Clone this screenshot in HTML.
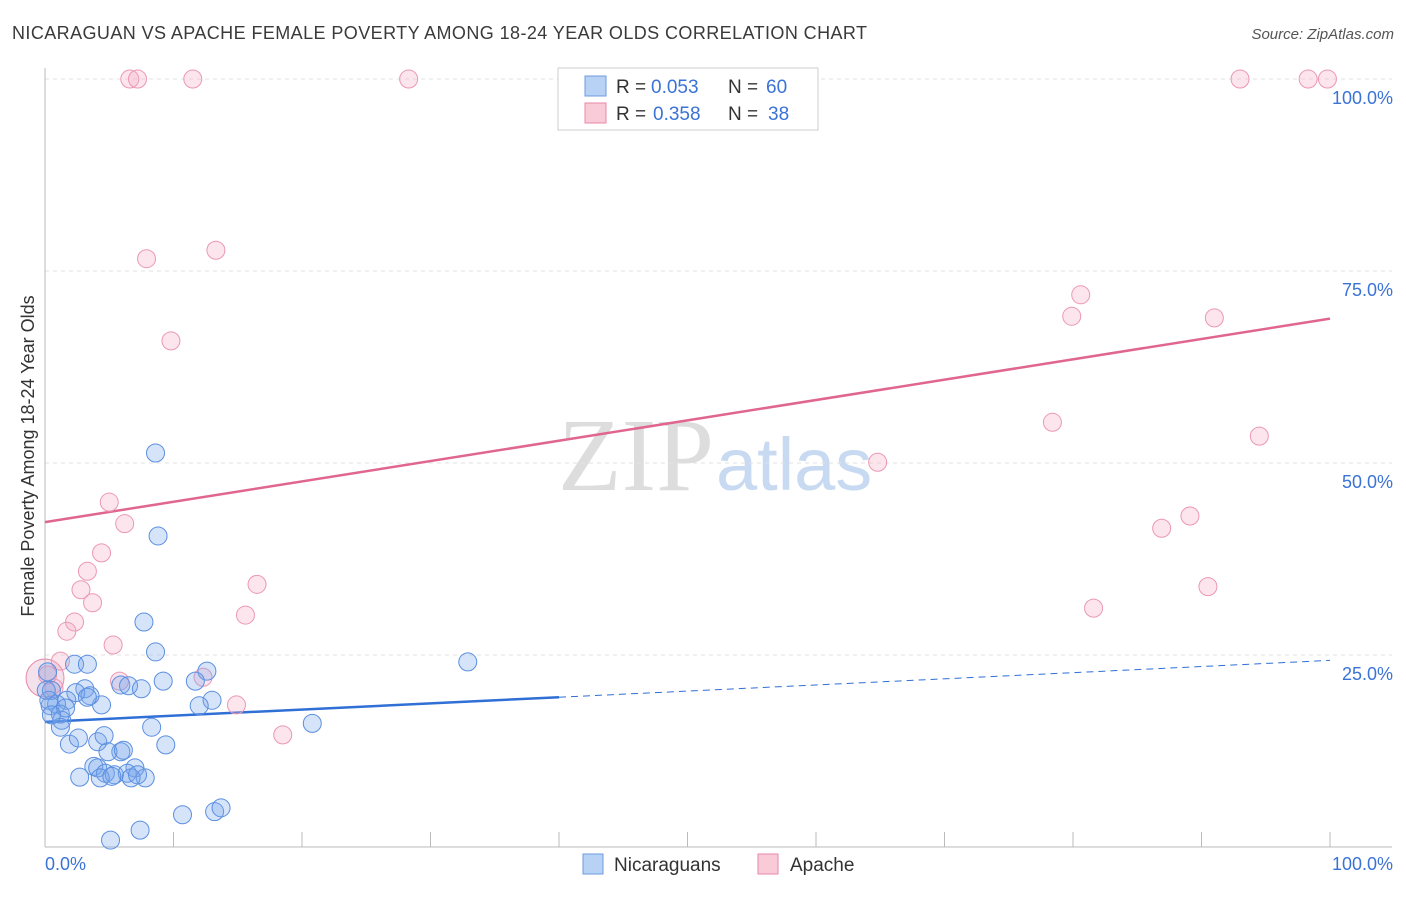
<!DOCTYPE html>
<html><head><meta charset="utf-8"><style>
body{margin:0;background:#fff;font-family:"Liberation Sans",sans-serif}
</style></head><body>
<svg width="1406" height="892" xmlns="http://www.w3.org/2000/svg">
<text x="12" y="39" font-size="18" fill="#3a3a3a" textLength="855" lengthAdjust="spacing">NICARAGUAN VS APACHE FEMALE POVERTY AMONG 18-24 YEAR OLDS CORRELATION CHART</text>
<text x="1394" y="39" font-size="15" fill="#555" text-anchor="end" font-style="italic">Source: ZipAtlas.com</text>
<text transform="translate(34,456) rotate(-90)" font-size="18" fill="#333" text-anchor="middle">Female Poverty Among 18-24 Year Olds</text>
<text x="714" y="490" font-size="104" fill="#ddd" text-anchor="end" font-family="Liberation Serif,serif">ZIP</text>
<text x="716" y="490" font-size="74" fill="#c8daf2">atlas</text>
<g id="grid"></g><g id="axes"></g><g id="lines"></g><g id="pts"></g>
<g>
<rect x="558" y="68" width="260" height="62" fill="#fff" stroke="#ccc"/>
<rect x="585" y="76" width="21" height="20" fill="#b8d2f5" stroke="#6d9be0"/>
<rect x="585" y="103" width="21" height="20" fill="#f9cad8" stroke="#e88aa8"/>
<text y="93" font-size="19" fill="#333"><tspan x="616">R =</tspan><tspan x="651" fill="#3a73d6">0.053</tspan><tspan x="728">N =</tspan><tspan x="766" fill="#3a73d6">60</tspan></text>
<text y="120" font-size="19" fill="#333"><tspan x="616">R =</tspan><tspan x="653" fill="#3a73d6">0.358</tspan><tspan x="728">N =</tspan><tspan x="768" fill="#3a73d6">38</tspan></text>
</g>
<g>
<rect x="583" y="854" width="20" height="20" fill="#b8d2f5" stroke="#6d9be0"/>
<text x="614" y="871" font-size="19" fill="#333">Nicaraguans</text>
<rect x="758" y="854" width="20" height="20" fill="#f9cad8" stroke="#e88aa8"/>
<text x="790" y="871" font-size="19" fill="#333">Apache</text>
</g>
</svg>
<script>
const blueX=[8.6,8.8,7.7,8.6,32.9,12.6,2.3,3.3,5.9,6.5,7.5,9.2,11.7,13.0,12.0,4.4,3.1,3.5,2.4,1.7,0.9,0.4,1.2,1.3,1.6,0.5,0.3,20.8,8.3,1.2,1.9,2.6,4.1,4.6,9.4,5.9,4.9,6.1,3.8,4.1,4.7,5.4,7.0,6.4,4.3,5.2,7.8,6.7,2.7,7.2,10.7,13.2,13.7,7.4,5.1,0.5,0.2,3.3,0.1];
const blueY=[51.3,40.5,29.3,25.4,24.1,22.9,23.8,23.8,21.1,21.0,20.6,21.6,21.6,19.1,18.4,18.5,20.6,19.7,20.1,19.1,18.6,18.4,17.3,16.5,18.1,20.4,19.1,16.1,15.6,15.6,13.4,14.2,13.7,14.5,13.3,12.4,12.4,12.6,10.5,10.3,9.6,9.4,10.3,9.6,9.0,9.2,9.0,9.0,9.1,9.4,4.2,4.6,5.1,2.2,0.9,17.2,22.8,19.5,20.4];
const pinkX=[6.6,7.2,11.5,28.3,93.0,98.3,99.8,7.9,13.3,9.8,80.6,79.9,91.0,78.4,64.8,94.5,5.0,6.2,4.4,3.3,2.8,3.7,2.3,1.7,86.9,89.1,81.6,90.5,16.5,15.6,5.3,1.2,5.8,12.3,14.9,18.5,0.7,0.2];
const pinkY=[100,100,100,100,100,100,100,76.6,77.7,65.9,71.9,69.1,68.9,55.3,50.1,53.5,44.9,42.1,38.3,35.9,33.5,31.8,29.3,28.1,41.5,43.1,31.1,33.9,34.2,30.2,26.3,24.2,21.6,22.1,18.5,14.6,20.7,22.4];
const blueTrend=[16.3,24.3];
const pinkTrend=[42.3,68.8];
const yTicks=[25,50,75,100];
const NS="http://www.w3.org/2000/svg";
const sx=v=>45+v*12.85, sy=v=>847-v*7.68;
function mk(p,t,a){const e=document.createElementNS(NS,t);for(const k in a)e.setAttribute(k,a[k]);document.getElementById(p).appendChild(e);return e;}
yTicks.forEach(t=>{
 const g=mk('grid','line',{x1:45,x2:1392,y1:sy(t),y2:sy(t),stroke:'#e2e2e2','stroke-dasharray':'4,4'});
 
 
 const l=mk('grid','text',{x:1393,y:sy(t)+25,'font-size':18,fill:'#3a73d6','text-anchor':'end'});
 l.textContent=t.toFixed(1)+'%';
 
 
});
mk('axes','line',{x1:45,x2:45,y1:68,y2:847,stroke:'#bbb'});
mk('axes','line',{x1:45,x2:1392,y1:847,y2:847,stroke:'#bbb'});
for(let i=0;i<=10;i++){const t=mk('axes','line',{x1:sx(i*10),x2:sx(i*10),y1:832,y2:847,stroke:'#bbb'});
 
 }
[['0.0%',45,'start'],['100.0%',1393,'end']].forEach(a=>{const l=mk('axes','text',{x:a[1],y:870,'font-size':18,fill:'#3a73d6','text-anchor':a[2]});l.textContent=a[0];
 
 });
let bl=mk('lines','line',{x1:sx(0),y1:sy(blueTrend[0]),x2:sx(40),y2:sy(blueTrend[0]+0.4*(blueTrend[1]-blueTrend[0])),stroke:'#2f6fd6','stroke-width':2.5});


let bd=mk('lines','line',{x1:sx(40),y1:sy(blueTrend[0]+0.4*(blueTrend[1]-blueTrend[0])),x2:sx(100),y2:sy(blueTrend[1]),stroke:'#2f6fd6','stroke-width':1,'stroke-dasharray':'7,5'});


let pl=mk('lines','line',{x1:sx(0),y1:sy(pinkTrend[0]),x2:sx(100),y2:sy(pinkTrend[1]),stroke:'#e0668f','stroke-width':2.5});


let big=mk('pts','circle',{cx:sx(0),cy:sy(22),r:19,fill:'rgba(220,170,200,0.35)',stroke:'#e88aa8'});


pinkX.forEach((x,i)=>{const c=mk('pts','circle',{cx:sx(x),cy:sy(pinkY[i]),r:9,fill:'rgba(246,170,195,0.3)',stroke:'#eb98b3','stroke-width':1});
 
 });
blueX.forEach((x,i)=>{const c=mk('pts','circle',{cx:sx(x),cy:sy(blueY[i]),r:9,fill:'rgba(120,165,235,0.3)',stroke:'#5b8fe0','stroke-width':1});
 
 });
</script>
</body></html>
